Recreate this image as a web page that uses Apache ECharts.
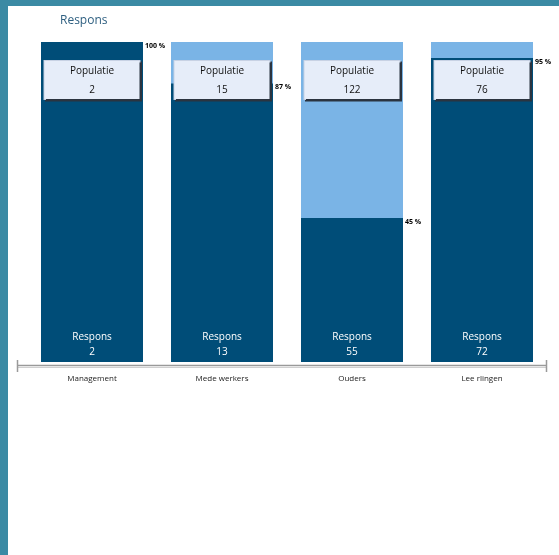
<!DOCTYPE html>
<html>
<head>
<meta charset="utf-8">
<script src="https://cdn.jsdelivr.net/npm/echarts@6/dist/echarts.min.js"></script>
<style>
html,body{margin:0;padding:0;background:#3b8aa4;}
#wrap{position:absolute;left:8px;top:6px;right:0;bottom:0;background:#ffffff;}
#chart{position:absolute;left:0;top:0;width:559px;height:555px;}
</style>
</head>
<body>
<div id="wrap"></div>
<div id="chart"></div>
<script>
const categories = ['Management', 'Mede werkers', 'Ouders', 'Lee rlingen'];
const populatie = [2, 15, 122, 76];
const respons = [2, 13, 55, 72];
const responsPct = [100, 87, 45, 95];
const total = [100, 100, 100, 100];

const chart = echarts.init(document.getElementById('chart'), null, {renderer: 'canvas'});
const FONT = '"Open Sans", "Noto Sans", sans-serif';

chart.setOption({
  backgroundColor: 'transparent',
  animation: false,
  title: {
    text: 'Respons',
    left: 55, top: 10,
    textStyle: {color: '#2e5f80', fontSize: 12, fontWeight: 'normal', fontFamily: FONT}
  },
  grid: {left: 27, right: 12, top: 42, bottom: 193},
  xAxis: {
    type: 'category',
    data: categories,
    offset: 4,
    axisLine: {show: false},
    axisTick: {show: false},
    axisLabel: {color: '#222', fontSize: 8, fontFamily: FONT, margin: 9}
  },
  yAxis: {type: 'value', min: 0, max: 100, show: false, splitLine: {show: false}},
  series: [
    {
      type: 'bar',
      data: total,
      barWidth: 102,
      barGap: '-100%',
      itemStyle: {color: '#7ab4e6'},
      z: 1
    },
    {
      type: 'bar',
      data: responsPct,
      barWidth: 102,
      barGap: '-100%',
      itemStyle: {color: '#004d78'},
      label: {
        show: true,
        position: 'insideBottom',
        distance: 2,
        formatter: p => 'Respons\n' + respons[p.dataIndex],
        color: '#ffffff',
        fontSize: 10,
        lineHeight: 15,
        fontFamily: FONT
      },
      z: 2
    },
    {
      type: 'bar',
      data: responsPct,
      barWidth: 102,
      barGap: '-100%',
      itemStyle: {color: 'rgba(0,0,0,0)'},
      label: {
        show: true,
        position: ['100%', 0],
        offset: [2, 0],
        align: 'left',
        verticalAlign: 'top',
        formatter: p => p.value + ' %',
        color: '#000',
        fontSize: 7,
        fontWeight: 'bold',
        fontFamily: FONT
      },
      z: 3
    },
    {
      type: 'bar',
      data: total,
      barWidth: 102,
      barGap: '-100%',
      itemStyle: {color: 'rgba(0,0,0,0)'},
      label: {
        show: true,
        position: 'insideTop',
        distance: 19,
        formatter: p => '{a|Populatie}\n{a|' + populatie[p.dataIndex] + '}',
        backgroundColor: '#e6edf9',
        borderColor: '#c8d2e4',
        borderWidth: 1,
        shadowColor: '#2b3440',
        shadowOffsetX: 1.5,
        shadowOffsetY: 1.5,
        shadowBlur: 0,
        width: 95,
        padding: [1, 0, 0, 0],
        rich: {a: {fontSize: 10, lineHeight: 18.5, color: '#111', fontFamily: FONT, align: 'center', width: 95}}
      },
      z: 4
    }
  ],
  graphic: [
    {type: 'line', shape: {x1: 17, y1: 365.5, x2: 547, y2: 365.5}, style: {stroke: '#9a9a9a', lineWidth: 1.5}, silent: true},
    {type: 'line', shape: {x1: 17, y1: 367.5, x2: 547, y2: 367.5}, style: {stroke: '#d0d0d0', lineWidth: 1}, silent: true},
    {type: 'line', shape: {x1: 17.5, y1: 360, x2: 17.5, y2: 372}, style: {stroke: '#9a9a9a', lineWidth: 1.5}, silent: true},
    {type: 'line', shape: {x1: 546.5, y1: 360, x2: 546.5, y2: 372}, style: {stroke: '#9a9a9a', lineWidth: 1.5}, silent: true}
  ]
});
</script>
</body>
</html>
